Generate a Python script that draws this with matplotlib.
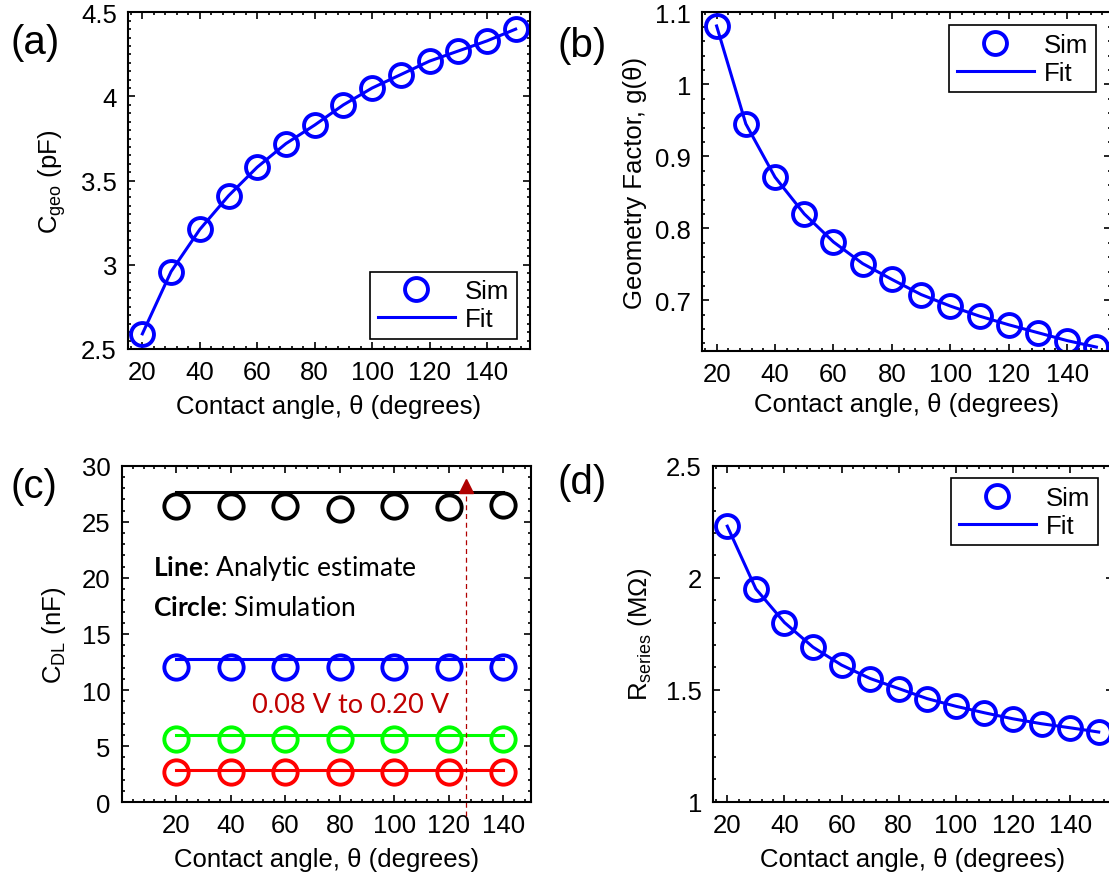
import matplotlib
matplotlib.use("Agg")
import matplotlib.pyplot as plt
from matplotlib.lines import Line2D
from matplotlib.ticker import AutoMinorLocator, MultipleLocator, FuncFormatter

plt.rcParams["font.family"] = ["Liberation Sans", "DejaVu Sans"]
plt.rcParams["mathtext.fontset"] = "custom"
plt.rcParams["mathtext.rm"] = "Liberation Sans"
plt.rcParams["mathtext.it"] = "Liberation Sans:italic"
plt.rcParams["mathtext.bf"] = "Lato:bold"

# ---- data ----
theta = [20, 30, 40, 50, 60, 70, 80, 90, 100, 110, 120, 130, 140, 150]
c_geo = [2.59, 2.96, 3.21, 3.41, 3.58, 3.72, 3.83, 3.95, 4.05, 4.13, 4.21, 4.27, 4.33, 4.40]
g_theta = [1.081, 0.945, 0.871, 0.820, 0.781, 0.751, 0.729, 0.708, 0.692, 0.678, 0.666, 0.655, 0.644, 0.635]
r_series = [2.23, 1.95, 1.80, 1.69, 1.61, 1.55, 1.505, 1.46, 1.426, 1.397, 1.370, 1.348, 1.330, 1.311]

theta_dl = [20, 40, 60, 80, 100, 120, 140]
cdl_sim = {
    "black": [26.39, 26.45, 26.39, 26.16, 26.45, 26.31, 26.54],
    "blue": [12.05, 12.05, 12.05, 12.05, 12.05, 12.05, 12.05],
    "lime": [5.61, 5.61, 5.61, 5.61, 5.61, 5.61, 5.61],
    "red": [2.66, 2.66, 2.66, 2.66, 2.66, 2.66, 2.66],
}
cdl_est = {"black": 27.64, "blue": 12.80, "lime": 5.97, "red": 2.87}
marker_x = 126.3
marker_top = 28.2
DARKRED = "#B00000"

FS = 18.5
MS = 16.5
MEW = 2.8

W, H = 1109, 878
fig = plt.figure(figsize=(W / 100, H / 100), dpi=100)


def px_axes(l, r, t, b):
    ax = fig.add_axes([l / W, 1 - b / H, (r - l) / W, (b - t) / H])
    ax._px = (l, r, t, b)
    return ax


def style(ax, xmaj, ymaj, xminor, yminor):
    ax.tick_params(which="both", direction="in", top=True, right=True, labelsize=FS, pad=8, width=1.2)
    ax.tick_params(which="major", length=5)
    ax.tick_params(which="minor", length=2.5)
    for sp in ax.spines.values():
        sp.set_linewidth(1.5)
    ax.xaxis.set_major_locator(MultipleLocator(xmaj))
    ax.yaxis.set_major_locator(MultipleLocator(ymaj))
    ax.xaxis.set_minor_locator(AutoMinorLocator(xminor))
    ax.yaxis.set_minor_locator(AutoMinorLocator(yminor))
    ax.yaxis.set_major_formatter(FuncFormatter(lambda v, p: f"{v:g}"))


def labels(ax, xlab, ylab, ylab_px, xlab_py):
    l, r, t, b = ax._px
    ax.set_xlabel(xlab, fontsize=FS, va="center")
    ax.set_ylabel(ylab, fontsize=FS, va="center", ha="center")
    ax.xaxis.set_label_coords(0.5, (b - xlab_py) / (b - t))
    ax.yaxis.set_label_coords((ylab_px - l) / (r - l), 0.5)


def legend(ax, loc, anchor):
    handles = [
        Line2D([], [], color="blue", marker="o", ls="none", ms=MS, mew=MEW, mfc="none"),
        Line2D([], [], color="blue", lw=2.2),
    ]
    lg = ax.legend(handles, ["Sim", "Fit"], loc=loc, bbox_to_anchor=anchor, borderaxespad=0,
                   fontsize=FS, fancybox=False, edgecolor="black", framealpha=1,
                   borderpad=0.3, handlelength=3.0, handletextpad=0.4, labelspacing=0.15)
    lg.get_frame().set_linewidth(1.2)


xlab = "Contact angle, θ (degrees)"

# (a)
ax = px_axes(128, 530, 13.3, 350)
ax.plot(theta, c_geo, color="blue", lw=2.2, marker="o", ms=MS, mew=MEW, mfc="none")
ax.set_xlim(15, 155)
ax.set_ylim(2.5, 4.5)
style(ax, 20, 0.5, 5, 10)
labels(ax, xlab, r"C$_{\mathrm{geo}}$ (pF)", 52, 407)
legend(ax, "lower right", ((517 - 128) / 402, (350 - 340) / 336.7))

# (b)
ax = px_axes(702, 1111, 13.3, 351.7)
ax.plot(theta, g_theta, color="blue", lw=2.2, marker="o", ms=MS, mew=MEW, mfc="none")
ax.set_xlim(15, 155)
ax.set_ylim(0.63, 1.1)
style(ax, 20, 0.1, 5, 5)
labels(ax, xlab, "Geometry Factor, g(θ)", 635, 405)
legend(ax, "upper right", ((1096 - 702) / 409, (351.7 - 26) / 338.4))

# (c)
ax = px_axes(121.7, 530.7, 466.7, 803.3)
for col, sim in cdl_sim.items():
    ax.plot(theta_dl, sim, ls="none", marker="o", ms=17.5, mew=MEW, mfc="none", color=col)
    ax.plot([theta_dl[0], theta_dl[-1]], [cdl_est[col]] * 2, color=col, lw=2.2)
ax.plot([marker_x, marker_x], [-1.2, cdl_est["black"]], ls=(0, (4, 3)), lw=0.9, color=DARKRED, clip_on=False)
ax.plot(marker_x, marker_top, marker="^", ms=9.5, color=DARKRED, clip_on=False)
ax.set_xlim(0, 150)
ax.set_ylim(0, 30)
style(ax, 20, 5, 5, 5)
ax.set_xticks([20, 40, 60, 80, 100, 120, 140])
labels(ax, xlab, r"C$_{\mathrm{DL}}$ (nF)", 54, 860)
ax.text(11.5, 20.97, r"$\mathbf{Line}$: Analytic estimate", fontsize=19, family="Lato", va="center")
ax.text(11.5, 17.4, r"$\mathbf{Circle}$: Simulation", fontsize=19, family="Lato", va="center")
ax.text(47.8, 8.7, "0.08 V to 0.20 V", fontsize=19.5, family="Lato", color="#C00000", va="center")

# (d)
ax = px_axes(713, 1113, 466.7, 802.7)
ax.plot(theta, r_series, color="blue", lw=2.2, marker="o", ms=MS, mew=MEW, mfc="none")
ax.set_xlim(15, 155)
ax.set_ylim(1, 2.5)
style(ax, 20, 0.5, 5, 5)
labels(ax, xlab, r"R$_{\mathrm{series}}$ (MΩ)", 640, 860)
legend(ax, "upper right", ((1098 - 713) / 400, (802.7 - 479) / 336))

for lab, x, y in [("(a)", 10.5, 43), ("(b)", 557, 46), ("(c)", 10.5, 487), ("(d)", 557, 483)]:
    fig.text(x / W, 1 - y / H, lab, fontsize=29, va="center", ha="left")

fig.savefig("out.png", dpi=100)
